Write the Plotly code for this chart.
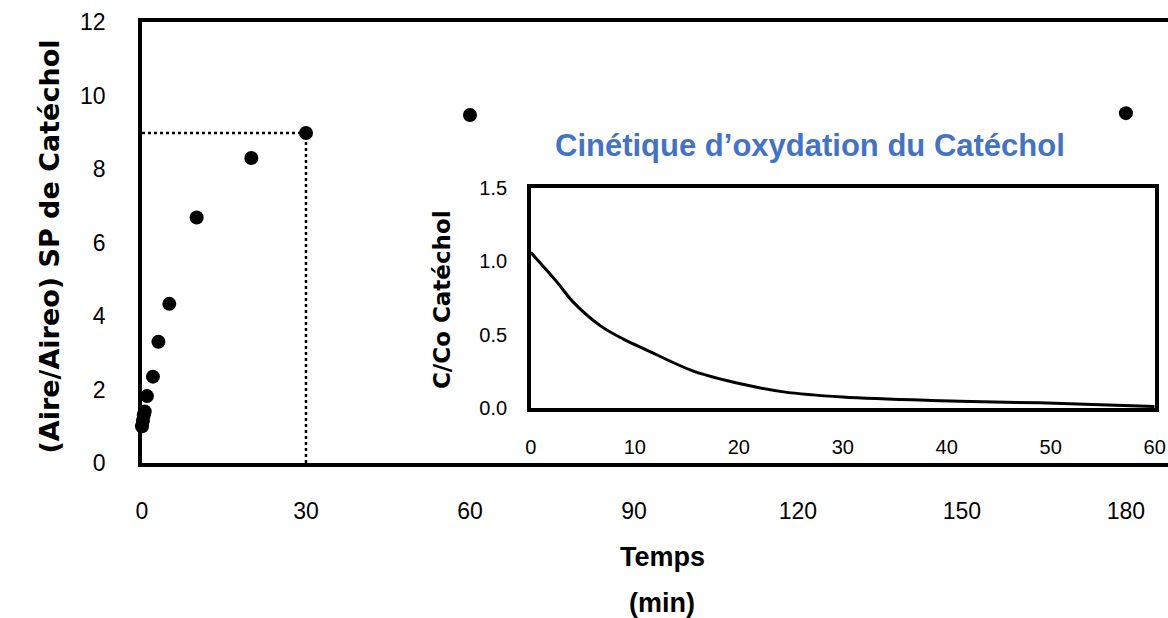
import plotly.graph_objects as go

# Main series
t_main = [0, 0.17, 0.33, 0.5, 0.9, 2, 3, 5, 10, 20, 30, 60, 180]
y_main = [1.0, 1.15, 1.3, 1.4, 1.82, 2.35, 3.3, 4.33, 6.68, 8.3, 8.98, 9.47, 9.52]
x_ticks_main = [0, 30, 60, 90, 120, 150, 180]
y_ticks_main = [0, 2, 4, 6, 8, 10, 12]

# Guide lines (dotted)
guide_h_x = [0, 30]
guide_h_y = [8.98, 8.98]
guide_v_x = [30, 30]
guide_v_y = [0, 8.98]

# Inset series
t_inset = [0, 2.5, 4.1, 6.7, 8.9, 11, 15.7, 20.5, 24.3, 30, 39.4, 48.9, 60]
c_inset = [1.06, 0.86, 0.72, 0.56, 0.47, 0.40, 0.25, 0.16, 0.11, 0.075, 0.05, 0.035, 0.01]
x_ticks_inset = [0, 10, 20, 30, 40, 50, 60]
y_ticks_inset = [0.0, 0.5, 1.0, 1.5]

TICKFONT = "Liberation Sans Narrow, Liberation Sans, sans-serif"
BOLDFONT = "DejaVu Sans, sans-serif"

fig = go.Figure()

fig.add_trace(go.Scatter(x=guide_h_x, y=guide_h_y, mode="lines",
                         line=dict(color="black", width=2.5, dash="dot"),
                         xaxis="x", yaxis="y", showlegend=False, hoverinfo="skip"))
fig.add_trace(go.Scatter(x=guide_v_x, y=guide_v_y, mode="lines",
                         line=dict(color="black", width=2.5, dash="dot"),
                         xaxis="x", yaxis="y", showlegend=False, hoverinfo="skip"))
fig.add_trace(go.Scatter(x=t_main, y=y_main, mode="markers",
                         marker=dict(color="black", size=14),
                         cliponaxis=False, xaxis="x", yaxis="y", showlegend=False))
fig.add_trace(go.Scatter(x=t_inset, y=c_inset, mode="lines",
                         line=dict(color="black", width=3, shape="spline"),
                         xaxis="x2", yaxis="y2", showlegend=False))

fig.update_layout(
    width=1168, height=618,
    margin=dict(l=142, r=0, t=22, b=155),
    paper_bgcolor="white", plot_bgcolor="white",
    xaxis=dict(range=[0, 187.7], tickvals=x_ticks_main, showgrid=False, zeroline=False,
               showline=True, linecolor="black", linewidth=3.5, mirror=True,
               ticks="", ticklabelstandoff=25, automargin=False,
               tickfont=dict(family=TICKFONT, size=23, color="black")),
    yaxis=dict(range=[0, 12], tickvals=y_ticks_main, showgrid=False, zeroline=False,
               showline=True, linecolor="black", linewidth=3.5,
               ticks="", ticklabelstandoff=28, automargin=False,
               tickfont=dict(family=TICKFONT, size=23, color="black")),
    xaxis2=dict(domain=[0.379, 0.987], anchor="y2", range=[0, 60], tickvals=x_ticks_inset,
                showgrid=False, zeroline=False, showline=True, linecolor="black",
                linewidth=3.5, mirror=True, ticks="", ticklabelstandoff=18, automargin=False,
                tickfont=dict(family=TICKFONT, size=20, color="black")),
    yaxis2=dict(domain=[0.1247, 0.6236], anchor="x2", range=[0, 1.5], tickvals=y_ticks_inset,
                tickformat=".1f", showgrid=False, zeroline=False, showline=True,
                linecolor="black", linewidth=3.5, mirror=True, ticks="",
                ticklabelstandoff=16, automargin=False,
                tickfont=dict(family=TICKFONT, size=20, color="black")),
    annotations=[
        dict(text="<b>(Aire/Aireo) SP de Catéchol</b>", textangle=-90,
             xref="paper", yref="paper", x=-0.090, y=0.49, xanchor="center", yanchor="middle",
             showarrow=False, font=dict(family=BOLDFONT, size=27, color="black")),
        dict(text="<b>Temps</b>", xref="paper", yref="paper", x=0.507, y=-0.213,
             xanchor="center", yanchor="middle", showarrow=False,
             font=dict(family=TICKFONT, size=27, color="black")),
        dict(text="<b>(min)</b>", xref="paper", yref="paper", x=0.507, y=-0.317,
             xanchor="center", yanchor="middle", showarrow=False,
             font=dict(family=TICKFONT, size=27, color="black")),
        dict(text="<b>Cinétique d’oxydation du Catéchol</b>", xref="paper", yref="paper",
             x=0.651, y=0.719, xanchor="center", yanchor="middle", showarrow=False,
             font=dict(family=TICKFONT, size=31, color="#4472C4")),
        dict(text="<b>C/Co Catéchol</b>", textangle=-90, xref="paper", yref="paper",
             x=0.293, y=0.371, xanchor="center", yanchor="middle", showarrow=False,
             font=dict(family=BOLDFONT, size=23, color="black")),
    ],
)

fig.write_html("out.html")
